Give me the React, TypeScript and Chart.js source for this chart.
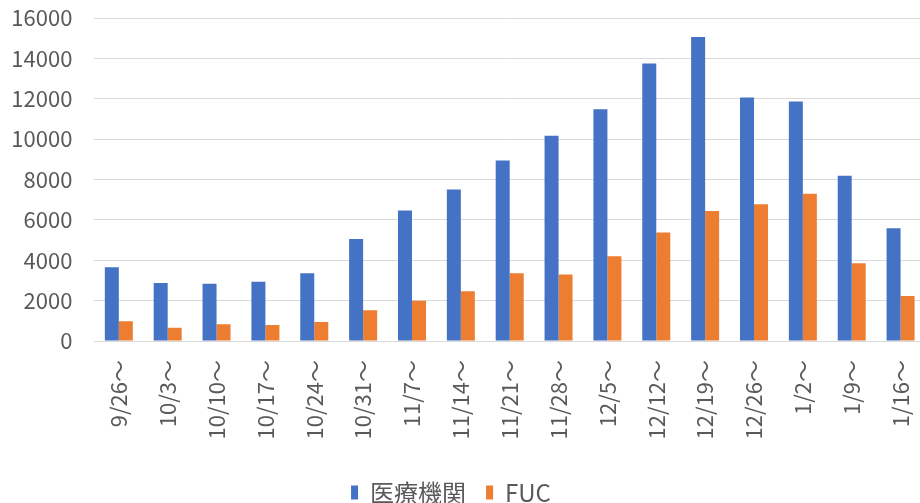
import React, { useEffect, useRef } from "react";
import { Chart, registerables } from "chart.js";

Chart.register(...registerables);

const categories = ["9/26～", "10/3～", "10/10～", "10/17～", "10/24～", "10/31～", "11/7～", "11/14～", "11/21～", "11/28～", "12/5～", "12/12～", "12/19～", "12/26～", "1/2～", "1/9～", "1/16～"];
const iryoKikan = [3650, 2870, 2840, 2940, 3350, 5050, 6460, 7510, 8940, 10170, 11480, 13750, 15060, 12060, 11860, 8190, 5580];
const fuc = [980, 660, 830, 790, 940, 1520, 2000, 2460, 3350, 3300, 4200, 5380, 6440, 6770, 7300, 3850, 2230];
const seriesNames = ["医療機関", "FUC"];
const yMin = 0;
const yMax = 16000;
const yStep = 2000;

const FONT = '"Noto Sans CJK JP", "Noto Sans", sans-serif';
const TEXT = "#595959";
const GRID = "#D9D9D9";

export default function App() {
  const ref = useRef<HTMLCanvasElement | null>(null);
  useEffect(() => {
    document.body.style.margin = "0";
    const canvas = ref.current;
    if (!canvas) return;
    const chart = new Chart(canvas, {
      type: "bar",
      data: {
        labels: categories,
        datasets: [
          { label: seriesNames[0], data: iryoKikan, backgroundColor: "#4472C4", categoryPercentage: 0.573, barPercentage: 1.0 },
          { label: seriesNames[1], data: fuc, backgroundColor: "#ED7D31", categoryPercentage: 0.573, barPercentage: 1.0 },
        ],
      },
      options: {
        animation: false,
        responsive: false,
        maintainAspectRatio: false,
        layout: { padding: { top: 18, right: 0, bottom: -11.5, left: -23 } },
        plugins: {
          legend: {
            position: "bottom",
            labels: {
              boxWidth: 7,
              boxHeight: 14,
              padding: 20,
              color: TEXT,
              font: { family: FONT, size: 24 },
            },
          },
          tooltip: { enabled: false },
        },
        scales: {
          x: {
            grid: { display: false, drawTicks: false },
            border: { display: true, color: GRID, width: 1 },
            ticks: {
              color: TEXT,
              font: { family: FONT, size: 22 },
              minRotation: 90,
              maxRotation: 90,
              autoSkip: false,
              padding: 19,
            },
            afterFit: (s: any) => {
              s.height = 119.5;
              s.paddingLeft = 0;
              s.paddingRight = 0;
            },
          },
          y: {
            min: yMin,
            max: yMax,
            grid: { color: GRID, lineWidth: 1, drawTicks: false },
            border: { display: false },
            ticks: {
              stepSize: yStep,
              color: TEXT,
              font: { family: FONT, size: 22 },
              padding: 22,
              callback: (v: any) => String(v),
            },
            afterFit: (s: any) => {
              s.width = 117.4;
              s.paddingTop = 0;
              s.paddingBottom = 0;
            },
          },
        },
      },
    });
    return () => chart.destroy();
  }, []);
  return (
    <div style={{ position: "fixed", left: 0, top: 0, width: 920, height: 503, overflow: "hidden", background: "#fff" }}>
      <canvas ref={ref} width={925} height={503} style={{ width: 925, height: 503, display: "block" }} />
    </div>
  );
}
